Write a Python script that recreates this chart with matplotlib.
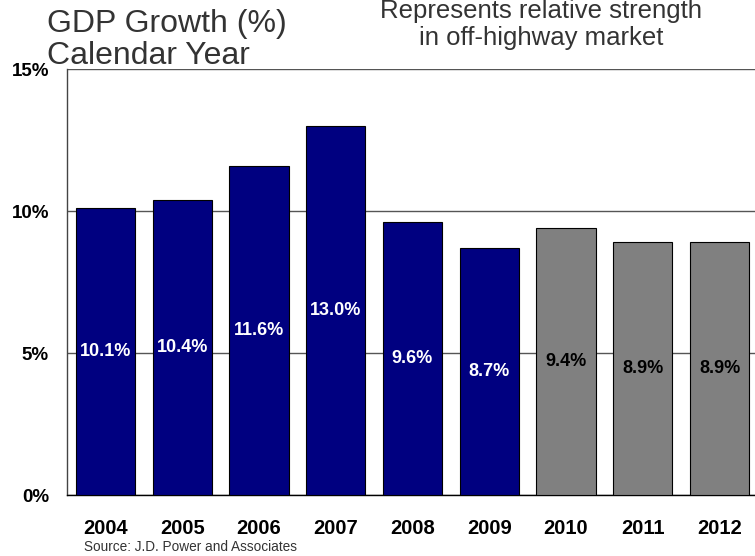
import matplotlib
matplotlib.use("Agg")
import matplotlib.pyplot as plt

plt.rcParams['font.family'] = ['Liberation Sans', 'DejaVu Sans']

years = ["2004", "2005", "2006", "2007", "2008", "2009", "2010", "2011", "2012"]
growth = [10.1, 10.4, 11.6, 13.0, 9.6, 8.7, 9.4, 8.9, 8.9]
is_forecast = [False, False, False, False, False, False, True, True, True]
y_ticks = [0, 5, 10, 15]
y_tick_labels = ["0%", "5%", "10%", "15%"]

actual_color = "#000080"
forecast_color = "#808080"

W, H = 755, 556
fig = plt.figure(figsize=(W / 100, H / 100), dpi=100)
ax = fig.add_axes([67 / W, 1 - 495 / H, 691 / W, 426 / H])

x = list(range(len(years)))
colors = [forecast_color if f else actual_color for f in is_forecast]
ax.bar(x, growth, width=0.77, color=colors, edgecolor="black",
       linewidth=0.8, zorder=3)

for xi, val, f in zip(x, growth, is_forecast):
    ax.text(xi, val / 2, f"{val:.1f}%", ha="center", va="center",
            fontsize=13, fontweight="bold",
            color="black" if f else "white", zorder=4)

ax.set_xlim(-0.5, len(years) - 0.5)
ax.set_ylim(0, 15)
ax.set_yticks(y_ticks)
ax.set_yticklabels(y_tick_labels, fontsize=13.5, fontweight="bold")
ax.set_xticks(x)
ax.set_xticklabels(years, fontsize=14.5, fontweight="bold")
ax.tick_params(axis="both", length=0)
ax.tick_params(axis="y", pad=13)
ax.tick_params(axis="x", pad=17)

ax.yaxis.grid(True, color="#555555", linewidth=1.0, zorder=0)
ax.set_axisbelow(True)
for side in ("right", "top"):
    ax.spines[side].set_visible(False)
ax.spines["left"].set_color("#444444")
ax.spines["bottom"].set_color("black")
ax.spines["left"].set_linewidth(1.0)
ax.spines["bottom"].set_linewidth(1.0)

# Title, two lines
fig.text(47 / W, 1 - 32 / H, "GDP Growth (%)", fontsize=23, color="#333333",
         ha="left", va="baseline")
fig.text(47 / W, 1 - 64 / H, "Calendar Year", fontsize=23, color="#333333",
         ha="left", va="baseline")

# Note at top right
fig.text(541 / W, 1 - 18 / H, "Represents relative strength", fontsize=18.5,
         color="#333333", ha="center", va="baseline")
fig.text(541 / W, 1 - 45 / H, "in off-highway market", fontsize=18.5,
         color="#333333", ha="center", va="baseline")

fig.text(84 / W, 1 - 551 / H, "Source: J.D. Power and Associates",
         fontsize=9.8, color="#333333", ha="left", va="baseline")

fig.savefig("out.png", dpi=100)
